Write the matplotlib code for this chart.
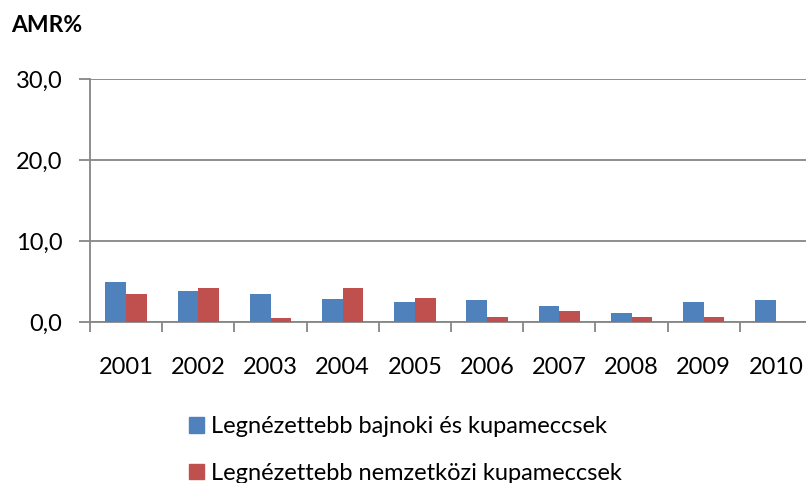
import matplotlib
matplotlib.use("Agg")
import matplotlib.pyplot as plt
from matplotlib.patches import Patch
import numpy as np

years = ["2001", "2002", "2003", "2004", "2005", "2006", "2007", "2008", "2009", "2010"]
bajnoki = [5.0, 3.9, 3.5, 2.9, 2.5, 2.7, 2.0, 1.2, 2.5, 2.8]
nemzetkozi = [3.5, 4.2, 0.5, 4.2, 3.0, 0.6, 1.4, 0.65, 0.65, np.nan]
series_names = ["Legnézettebb bajnoki és kupameccsek", "Legnézettebb nemzetközi kupameccsek"]
yticks = [0, 10, 20, 30]

blue = "#4F81BD"
red = "#C0504D"
gray = "#868686"

plt.rcParams['font.family'] = ['Lato', 'DejaVu Sans']
FS = 17

fig = plt.figure(figsize=(8.06, 4.83), dpi=100)
ax = fig.add_axes([90/806, (483-322.3)/483, 722/806, (322.3-79.3)/483])

x = np.arange(len(years))
w = 0.287
ax.bar(x - w/2, bajnoki, width=w, color=blue, zorder=3)
ax.bar(x + w/2, nemzetkozi, width=w, color=red, zorder=3)

ax.set_xlim(-0.5, len(years) - 0.5)
ax.set_ylim(0, 30)
ax.set_yticks(yticks)
ax.set_yticklabels([f"{v:.1f}".replace(".", ",") for v in yticks], fontsize=FS)
ax.yaxis.grid(True, color=gray, linewidth=1.3, zorder=0)
ax.set_xticks(x)
ax.set_xticklabels(years, fontsize=FS)
ax.tick_params(axis='x', length=0, pad=25)
ax.set_xticks(np.arange(-0.5, len(years)), minor=True)
ax.tick_params(axis='x', which='minor', length=7, width=1.3, color=gray)
ax.tick_params(axis='y', length=8, width=1.3, color=gray, pad=12)
for s in ['top', 'right']:
    ax.spines[s].set_visible(False)
for s in ['left', 'bottom']:
    ax.spines[s].set_color(gray)
    ax.spines[s].set_linewidth(1.3)

fig.text(11/806, 1 - 25/483, "AMR%", fontsize=16.5, fontweight='bold', va='center', ha='left')

handles = [Patch(color=blue), Patch(color=red)]
fig.legend(handles, series_names, loc='center left', bbox_to_anchor=(189/806, 1 - 450/483),
           frameon=False, fontsize=FS, handlelength=0.64, handleheight=0.64,
           handletextpad=0.28, labelspacing=1.1, borderaxespad=0, borderpad=0)

fig.savefig("out.png", dpi=100)
